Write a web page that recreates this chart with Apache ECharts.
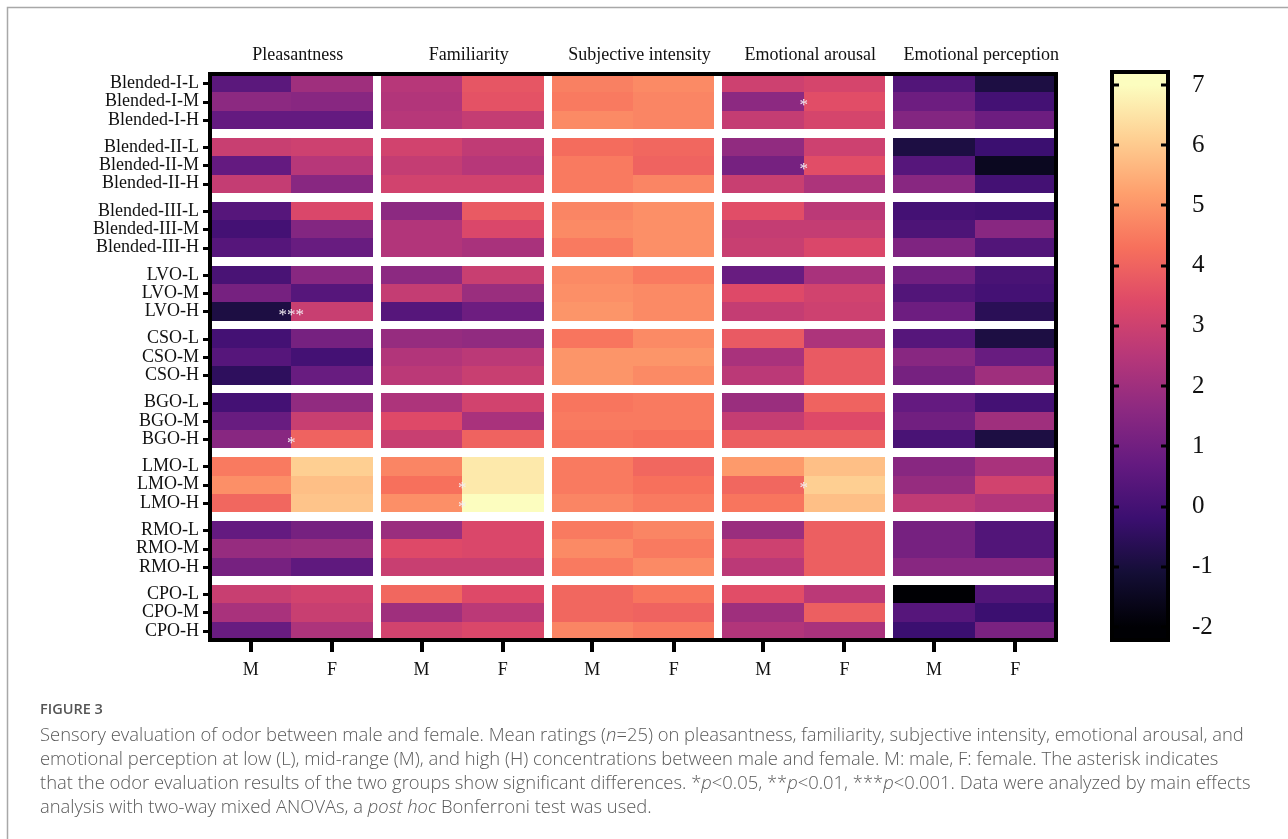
<!DOCTYPE html>
<html>
<head>
<meta charset="utf-8">
<title>Sensory evaluation heatmap</title>
<script src="https://cdn.jsdelivr.net/npm/echarts@6/dist/echarts.min.js"></script>
<style>
  html, body { margin: 0; padding: 0; background: #fff; }
  #chart { width: 1288px; height: 839px; }
</style>
</head>
<body>
<div id="chart"></div>
<script>
// ---- data -------------------------------------------------------------
const rowLabels = [
  'Blended-I-L', 'Blended-I-M', 'Blended-I-H',
  'Blended-II-L', 'Blended-II-M', 'Blended-II-H',
  'Blended-III-L', 'Blended-III-M', 'Blended-III-H',
  'LVO-L', 'LVO-M', 'LVO-H',
  'CSO-L', 'CSO-M', 'CSO-H',
  'BGO-L', 'BGO-M', 'BGO-H',
  'LMO-L', 'LMO-M', 'LMO-H',
  'RMO-L', 'RMO-M', 'RMO-H',
  'CPO-L', 'CPO-M', 'CPO-H'
];
const attributes = ['Pleasantness', 'Familiarity', 'Subjective intensity', 'Emotional arousal', 'Emotional perception'];
const sexes = ['M', 'F'];

// mean ratings, one [male, female] pair per row
const pleasantness = [
  [0.5, 2.0], [1.6, 1.5], [0.7, 0.7],
  [2.9, 3.0], [0.7, 2.5], [2.8, 1.5],
  [0.4, 3.3], [0.0, 1.4], [0.4, 0.8],
  [0.1, 1.5], [1.1, 0.4], [-0.9, 2.9],
  [0.0, 1.1], [0.4, 0.0], [-0.5, 0.8],
  [0.0, 1.7], [0.8, 2.9], [1.5, 4.0],
  [4.5, 6.1], [4.9, 5.8], [4.1, 5.9],
  [0.7, 1.1], [1.8, 1.9], [1.1, 0.6],
  [2.9, 3.1], [2.2, 2.9], [0.8, 2.3]
];
const familiarity = [
  [2.5, 3.7], [2.4, 3.6], [2.5, 2.8],
  [3.1, 2.7], [2.8, 2.5], [3.1, 3.1],
  [1.6, 3.8], [2.4, 3.3], [2.4, 2.2],
  [1.6, 2.9], [2.8, 1.9], [0.4, 0.9],
  [1.8, 1.7], [2.4, 2.6], [2.6, 2.9],
  [2.3, 3.1], [3.4, 2.2], [2.9, 4.0],
  [4.7, 6.6], [4.3, 6.6], [4.9, 7.0],
  [1.9, 3.3], [3.4, 3.3], [2.9, 2.9],
  [4.1, 3.4], [2.0, 2.6], [3.1, 3.3]
];
const intensity = [
  [4.6, 4.8], [4.5, 4.7], [4.8, 4.7],
  [4.2, 4.1], [4.5, 4.0], [4.5, 4.7],
  [4.7, 4.9], [4.8, 4.9], [4.5, 4.9],
  [4.8, 4.5], [4.9, 4.8], [5.0, 4.8],
  [4.4, 4.8], [5.0, 5.0], [5.0, 4.8],
  [4.4, 4.5], [4.5, 4.5], [4.4, 4.3],
  [4.5, 4.1], [4.5, 4.3], [4.7, 4.5],
  [4.5, 4.7], [4.8, 4.5], [4.5, 4.8],
  [4.1, 4.4], [4.1, 4.0], [4.7, 4.5]
];
const arousal = [
  [3.0, 3.2], [1.6, 3.5], [2.8, 3.2],
  [1.7, 3.0], [1.1, 3.5], [2.9, 2.3],
  [3.5, 2.6], [2.8, 2.8], [2.9, 3.3],
  [0.8, 2.2], [3.4, 3.1], [2.8, 3.0],
  [3.8, 2.3], [2.2, 3.8], [2.6, 3.8],
  [1.9, 4.0], [2.8, 3.4], [3.9, 3.9],
  [5.1, 5.8], [4.1, 6.1], [4.4, 5.8],
  [1.9, 3.9], [3.0, 3.9], [2.6, 3.9],
  [3.5, 2.6], [2.0, 3.9], [2.4, 2.2]
];
const perception = [
  [0.3, -0.9], [0.9, 0.0], [1.4, 0.9],
  [-0.9, -0.2], [0.4, -1.5], [1.5, 0.0],
  [0.0, -0.1], [0.2, 1.5], [1.3, 0.3],
  [1.0, 0.1], [0.3, 0.0], [0.9, -0.6],
  [0.4, -0.9], [1.5, 0.8], [1.1, 2.0],
  [0.7, 0.0], [1.0, 2.0], [0.1, -0.9],
  [1.5, 2.2], [1.8, 3.1], [2.7, 2.4],
  [1.1, 0.3], [1.1, 0.3], [1.5, 1.5],
  [-2.0, 0.3], [0.4, -0.2], [-0.2, 1.2]
];

// significant male/female differences: [row, attribute, marker]
const significance = [
  [1, 3, '*'],
  [4, 3, '*'],
  [11, 0, '***'],
  [17, 0, '*'],
  [19, 1, '*'],
  [20, 1, '*'],
  [19, 3, '*']
];

// colour scale limits and colour-bar tick labels
const scaleMin = -2;
const scaleMax = 7;
const colorbarTicks = [-2, -1, 0, 1, 2, 3, 4, 5, 6, 7];

// magma palette, low to high
const magma = ['#000004', '#140e36', '#3b0f70', '#641a80', '#8c2981', '#b73779',
               '#de4968', '#f7705c', '#fe9f6d', '#fecf92', '#fcfdbf'];

// ---- layout helpers ------------------------------------------------------
const COL_GAP = 0.1;   // gap between attribute blocks, in cell widths
const ROW_GAP = 0.48;  // gap between odor groups, in cell heights
const colLeft = c => c + Math.floor(c / 2) * COL_GAP;
const rowTop = r => r + Math.floor(r / 3) * ROW_GAP;
const X_MAX = attributes.length * 2 + (attributes.length - 1) * COL_GAP;
const Y_MAX = rowLabels.length + (rowLabels.length / 3 - 1) * ROW_GAP;

const colCenters = [];
for (let c = 0; c < attributes.length * 2; c++) colCenters.push(+(colLeft(c) + 0.5).toFixed(4));
const rowCenters = rowLabels.map((_, r) => +(rowTop(r) + 0.5).toFixed(4));
const blockCenters = attributes.map((_, a) => +(colLeft(2 * a) + 1 + 0.08).toFixed(4));

const CB_AXIS_MIN = -2.216;
const CB_AXIS_MAX = 7.216;

// ---- cells -----------------------------------------------------------------
const attributeValues = [pleasantness, familiarity, intensity, arousal, perception];
const cells = [];
attributeValues.forEach((arr, a) => {
  arr.forEach((pair, r) => {
    pair.forEach((v, s) => cells.push([2 * a + s, r, v]));
  });
});

const SERIF = '"Liberation Serif", "DejaVu Serif", serif';

function renderCell(params, api) {
  const c = api.value(0), r = api.value(1);
  const x0 = colLeft(c), y0 = rowTop(r);
  const p0 = api.coord([x0, y0]);
  const p1 = api.coord([x0 + 1, y0 + 1]);
  const left = Math.round(Math.min(p0[0], p1[0]));
  const right = Math.round(Math.max(p0[0], p1[0]));
  const top = Math.round(Math.min(p0[1], p1[1]));
  const bottom = Math.round(Math.max(p0[1], p1[1]));
  return {
    type: 'rect',
    shape: { x: left, y: top, width: right - left, height: bottom - top },
    style: { fill: api.visual('color') }
  };
}

function renderMarker(params, api) {
  const item = significance[params.dataIndex];
  const r = item[0], a = item[1];
  const p = api.coord([colLeft(2 * a) + 1, rowTop(r) + 0.5]);
  return {
    type: 'text',
    x: p[0],
    y: p[1] + 4,
    style: {
      text: item[2],
      fill: '#f3eef3',
      font: '17px ' + SERIF,
      align: 'center',
      verticalAlign: 'middle'
    }
  };
}

// small black tick stubs along the outside of the heatmap frame
const TICK_COLOR = '#000';
function renderFrameTicks(params, api) {
  const children = [];
  colCenters.forEach(cx => {
    const p = api.coord([cx, Y_MAX]);
    children.push({ type: 'rect', shape: { x: Math.round(p[0]) - 2, y: Math.round(p[1]) + 2, width: 4, height: 10 },
      style: { fill: TICK_COLOR } });
  });
  rowCenters.forEach(cy => {
    const p = api.coord([0, cy]);
    children.push({ type: 'rect', shape: { x: Math.round(p[0]) - 7, y: Math.round(p[1]) - 1, width: 6, height: 3 },
      style: { fill: TICK_COLOR } });
  });
  return { type: 'group', children };
}

function renderColorbar(params, api) {
  const pTop = api.coord([0, CB_AXIS_MAX]);
  const pBot = api.coord([1, CB_AXIS_MIN]);
  const span = CB_AXIS_MAX - CB_AXIS_MIN;
  const stops = magma.map((color, i) => {
    const v = scaleMin + (scaleMax - scaleMin) * i / (magma.length - 1);
    return { offset: (v - CB_AXIS_MIN) / span, color };
  });
  const children = [{
    type: 'rect',
    shape: { x: pTop[0], y: pTop[1], width: pBot[0] - pTop[0], height: pBot[1] - pTop[1] },
    style: { fill: new echarts.graphic.LinearGradient(0, 1, 0, 0, stops) }
  }];
  // inward tick stubs on both sides of the bar
  colorbarTicks.forEach(v => {
    const pl = api.coord([0, v]);
    const pr = api.coord([1, v]);
    children.push({ type: 'rect', shape: { x: pl[0], y: Math.round(pl[1]) - 1.5, width: 7, height: 3 },
      style: { fill: TICK_COLOR } });
    children.push({ type: 'rect', shape: { x: pr[0] - 7, y: Math.round(pr[1]) - 1.5, width: 7, height: 3 },
      style: { fill: TICK_COLOR } });
  });
  return { type: 'group', children };
}

const rowLabelOf = v => {
  const i = rowCenters.findIndex(c => Math.abs(c - v) < 1e-3);
  return i >= 0 ? rowLabels[i] : '';
};
const sexOf = v => {
  const i = colCenters.findIndex(c => Math.abs(c - v) < 1e-3);
  return i >= 0 ? sexes[i % 2] : '';
};
const attributeOf = v => {
  const i = blockCenters.findIndex(c => Math.abs(c - v) < 1e-3);
  return i >= 0 ? attributes[i] : '';
};

const chart = echarts.init(document.getElementById('chart'), null, { renderer: 'canvas' });

const captionFont = '"Open Sans", "Noto Sans", sans-serif';
const captionLines = [
  'Sensory evaluation of odor between male and female. Mean ratings ({i|n}=25) on pleasantness, familiarity, subjective intensity, emotional arousal, and',
  'emotional perception at low (L), mid-range (M), and high (H) concentrations between male and female. M: male, F: female. The asterisk indicates',
  'that the odor evaluation results of the two groups show significant differences. *{i|p}<0.05, **{i|p}<0.01, ***{i|p}<0.001. Data were analyzed by main effects',
  'analysis with two-way mixed ANOVAs, a {i|post hoc} Bonferroni test was used.'
];
const CAPTION_SIZE = 18.4;

const option = {
  backgroundColor: '#ffffff',
  animation: false,
  grid: [
    { left: 210, top: 74, width: 846, height: 566, show: true, borderColor: '#000', borderWidth: 4,
      backgroundColor: 'transparent', z: 10 },
    { left: 1112, top: 72, width: 56, height: 568, show: true, borderColor: '#000', borderWidth: 4,
      backgroundColor: 'transparent', z: 10 }
  ],
  xAxis: [
    {
      gridIndex: 0, type: 'value', position: 'bottom', min: 0, max: X_MAX,
      axisLine: { show: false }, splitLine: { show: false }, axisTick: { show: false },
      axisLabel: { customValues: colCenters, formatter: sexOf, margin: 21,
        fontFamily: SERIF, fontSize: 18, color: '#111' }
    },
    {
      gridIndex: 0, type: 'value', position: 'top', min: 0, max: X_MAX,
      axisLine: { show: false }, splitLine: { show: false }, axisTick: { show: false },
      axisLabel: { customValues: blockCenters, formatter: attributeOf, margin: 10,
        fontFamily: SERIF, fontSize: 18, color: '#111' }
    },
    {
      gridIndex: 1, type: 'value', min: 0, max: 1, show: false, splitLine: { show: false }
    }
  ],
  yAxis: [
    {
      gridIndex: 0, type: 'value', position: 'left', inverse: true, min: 0, max: Y_MAX,
      axisLine: { show: false }, splitLine: { show: false }, axisTick: { show: false },
      axisLabel: { customValues: rowCenters, formatter: rowLabelOf, margin: 11,
        fontFamily: SERIF, fontSize: 18, color: '#111' }
    },
    {
      gridIndex: 1, type: 'value', position: 'right', min: CB_AXIS_MIN, max: CB_AXIS_MAX,
      axisLine: { show: false }, splitLine: { show: false }, axisTick: { show: false },
      axisLabel: { customValues: colorbarTicks, margin: 24, align: 'left',
        fontFamily: SERIF, fontSize: 25, color: '#111' }
    }
  ],
  visualMap: {
    type: 'continuous', show: false, seriesIndex: 0, dimension: 2,
    min: scaleMin, max: scaleMax,
    inRange: { color: magma }
  },
  series: [
    {
      type: 'custom', name: 'ratings', xAxisIndex: 0, yAxisIndex: 0,
      renderItem: renderCell, data: cells, encode: { x: 0, y: 1 }, z: 2
    },
    {
      type: 'custom', name: 'significance', xAxisIndex: 0, yAxisIndex: 0,
      renderItem: renderMarker, data: significance.map(s => [s[1], s[0]]), z: 5
    },
    {
      type: 'custom', name: 'frameTicks', xAxisIndex: 0, yAxisIndex: 0, clip: false,
      renderItem: renderFrameTicks, data: [[0, 0]], z: 12
    },
    {
      type: 'custom', name: 'colorbar', xAxisIndex: 2, yAxisIndex: 1, clip: false,
      renderItem: renderColorbar, data: [[0, 0]], z: 2
    }
  ],
  graphic: [
    {
      type: 'rect', silent: true, z: 0,
      shape: { x: 7.5, y: 7.5, width: 1400, height: 1000 },
      style: { fill: 'none', stroke: '#a8a8a8', lineWidth: 1.5 }
    },
    {
      type: 'text', x: 40, y: 710, silent: true,
      style: { text: 'FIGURE 3', font: '600 14.5px ' + captionFont, fill: '#555', verticalAlign: 'middle' }
    }
  ].concat(captionLines.map((line, i) => ({
    type: 'text', x: 40, y: 736 + i * 24, silent: true,
    style: {
      text: line,
      font: '300 ' + CAPTION_SIZE + 'px ' + captionFont,
      fill: '#595959',
      verticalAlign: 'middle',
      rich: {
        i: { fontStyle: 'italic', fontFamily: captionFont, fontSize: CAPTION_SIZE, fontWeight: 300, fill: '#595959' }
      }
    }
  })))
};

chart.setOption(option);
</script>
</body>
</html>
